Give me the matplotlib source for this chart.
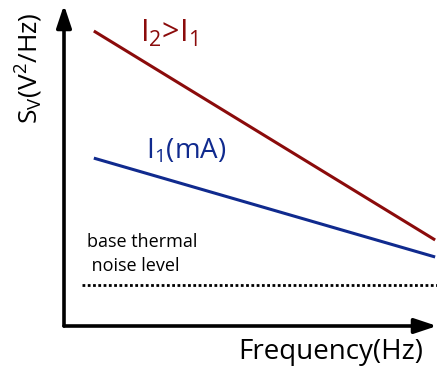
import matplotlib
matplotlib.use("Agg")
import matplotlib.pyplot as plt

# Data (arbitrary units)
freq = [0.8, 9.95]
s_i2 = [9.19, 2.68]
s_i1 = [5.23, 2.15]
thermal_x = [0.48, 10.0]
thermal_y = [1.28, 1.28]

labels = {"i2": r"I$_2$>I$_1$", "i1": r"I$_1$(mA)", "thermal": "base thermal\n noise level"}
xlabel = "Frequency(Hz)"
ylabel = r"S$_V$(V$^2$/Hz)"

plt.rcParams['font.family'] = ['Open Sans', 'DejaVu Sans']
plt.rcParams['mathtext.fontset'] = 'custom'
plt.rcParams['mathtext.rm'] = 'Open Sans'
plt.rcParams['mathtext.it'] = 'Open Sans'
plt.rcParams['mathtext.default'] = 'regular'

W, H = 437, 374
fig = plt.figure(figsize=(W / 100, H / 100), dpi=100)
x0, y0 = 64, 326
ax = fig.add_axes([x0 / W, (H - y0) / H, (W - x0) / W, (y0 - 5) / H])
ax.set_xlim(0, 10)
ax.set_ylim(0, 10)
ax.axis('off')

red = '#8b0b0b'
blue = '#102a8e'
ax.plot(freq, s_i2, color=red, lw=2.2, solid_capstyle='butt', clip_on=False)
ax.plot(freq, s_i1, color=blue, lw=2.2, solid_capstyle='butt', clip_on=False)
ax.plot(thermal_x, thermal_y, color='black', lw=2.0, linestyle=(0, (1, 0.9)), clip_on=False)

# axes arrows
for tip in [(0, 1.0), (1.0, 0)]:
    ax.annotate('', xy=tip, xytext=(0, 0), xycoords='axes fraction',
                arrowprops=dict(arrowstyle='-|>,head_length=1.35,head_width=0.45', lw=2.6,
                                color='black', shrinkA=0, shrinkB=0),
                annotation_clip=False)

ax.text(2.05, 9.12, labels["i2"], color=red, fontsize=22, ha='left', va='center')
ax.text(2.2, 5.45, labels["i1"], color=blue, fontsize=20, ha='left', va='center')
ax.text(0.62, 2.25, labels["thermal"], color='black', fontsize=13, ha='left', va='center',
        linespacing=1.45)

fig.text(331 / W, 1 - 352 / H, xlabel, fontsize=20, ha='center', va='center')
fig.text(29 / W, 1 - 68 / H, ylabel, fontsize=19, ha='center', va='center', rotation=90)

fig.savefig('out.png', dpi=100)
